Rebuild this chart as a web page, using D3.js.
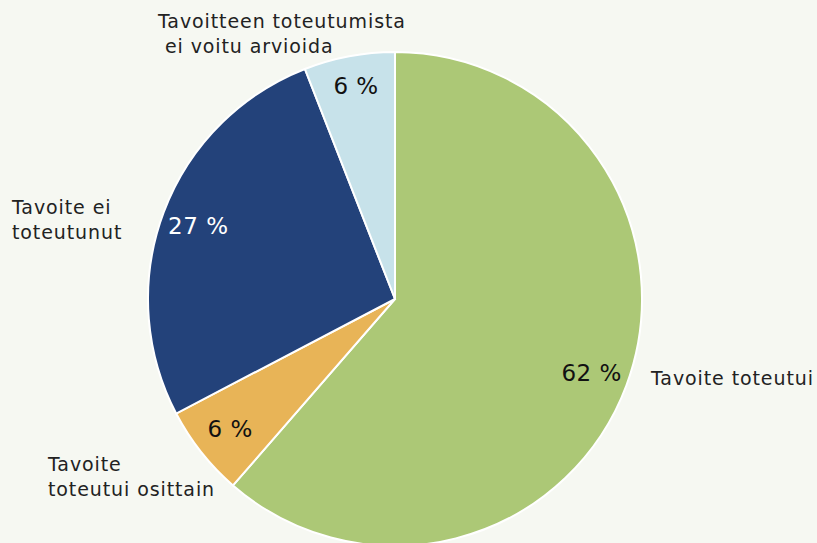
<!DOCTYPE html>
<html>
<head>
<meta charset="utf-8">
<script src="https://cdn.jsdelivr.net/npm/d3@7"></script>
<style>
  html, body { margin: 0; padding: 0; background: #f6f8f2; }
  svg { display: block; font-family: "DejaVu Sans", sans-serif; }
</style>
</head>
<body>
<div id="chart"></div>
<script>
// Data
const categories = [
  "Tavoite toteutui",
  "Tavoite toteutui osittain",
  "Tavoite ei toteutunut",
  "Tavoitteen toteutumista ei voitu arvioida"
];
const values = [62, 6, 27, 6];
const colors = ["#acc876", "#e8b457", "#23427a", "#c7e2ea"];

// Outer category labels (lines, position)
const outerLabels = [
  { lines: ["Tavoite toteutui"], x: 651, y: 385 },
  { lines: ["Tavoite", "toteutui osittain"], x: 48, y: 471 },
  { lines: ["Tavoite ei", "toteutunut"], x: 12, y: 214 },
  { lines: ["Tavoitteen toteutumista", " ei voitu arvioida"], x: 158, y: 28 }
];

const w = 817;
const h = 543;
const cx = 395;
const cy = 299;
const radius = 247;

const svg = d3
  .select("#chart")
  .append("svg")
  .attr("width", w)
  .attr("height", h);

svg.append("rect").attr("width", w).attr("height", h).attr("fill", "#f6f8f2");

const pie = d3.pie().sort(null).value(d => d);
const arcs = pie(values);

const arc = d3.arc().innerRadius(0).outerRadius(radius);
const labelArc = d3.arc().innerRadius(210).outerRadius(210);

const g = svg.append("g").attr("transform", `translate(${cx}, ${cy})`);

g.selectAll("path")
  .data(arcs)
  .enter()
  .append("path")
  .attr("d", arc)
  .attr("fill", (d, i) => colors[i])
  .attr("stroke", "#ffffff")
  .attr("stroke-width", 2);

// percent labels
g.selectAll("text.pct")
  .data(arcs)
  .enter()
  .append("text")
  .attr("class", "pct")
  .attr("transform", (d, i) => {
    const [x, y] = labelArc.centroid(d);
    return `translate(${x}, ${i === 3 ? y - 7 : y})`;
  })
  .attr("text-anchor", "middle")
  .attr("dy", "0.35em")
  .attr("font-size", 23)
  .attr("letter-spacing", 0.5)
  .attr("fill", (d, i) => (i === 2 ? "#ffffff" : "#111111"))
  .text(d => `${d.data} %`);

// category labels
outerLabels.forEach(l => {
  const t = svg
    .append("text")
    .attr("x", l.x)
    .attr("y", l.y)
    .attr("font-size", 19)
    .attr("letter-spacing", 0.9)
    .attr("fill", "#222222")
    .style("white-space", "pre");
  l.lines.forEach((line, i) => {
    t.append("tspan")
      .attr("x", l.x)
      .attr("y", l.y + i * 25)
      .text(line);
  });
});
</script>
</body>
</html>
